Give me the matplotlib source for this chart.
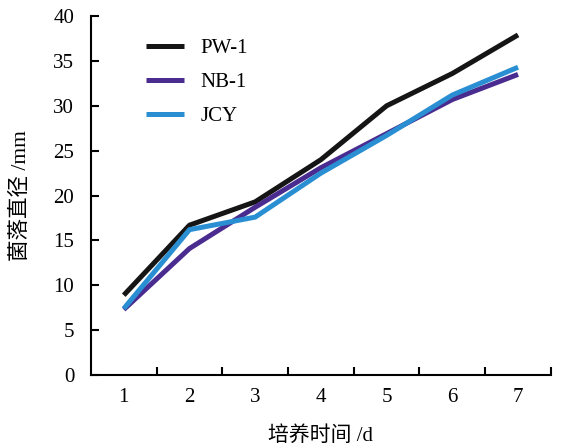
import matplotlib; matplotlib.use("Agg")
import matplotlib.pyplot as plt

days = [1, 2, 3, 4, 5, 6, 7]
pw1 = [8.9, 16.7, 19.3, 24.0, 30.0, 33.6, 37.9]
nb1 = [7.3, 14.1, 18.7, 23.1, 26.9, 30.7, 33.5]
jcy = [7.4, 16.2, 17.6, 22.5, 26.7, 31.2, 34.3]
names = ["PW-1", "NB-1", "JCY"]
colors = ["#151515", "#4a2c90", "#2a8fd2"]

plt.rcParams['font.family'] = ['Liberation Serif', 'Noto Sans CJK SC']
fig = plt.figure(figsize=(5.61, 4.46), dpi=100)
ax = fig.add_axes([0.162, 0.159, 0.82, 0.805])

for ys, n, c in zip([pw1, nb1, jcy], names, colors):
    ax.plot(days, ys, color=c, lw=3.6, label=n, solid_capstyle='butt')

ax.set_xlim(0.5, 7.5); ax.set_ylim(0, 40)
ax.set_yticks(range(0, 41, 5))
ax.set_xticks(days)
ax.set_xticks([1.5, 2.5, 3.5, 4.5, 5.5, 6.5, 7.5], minor=True)
ax.tick_params(axis='x', which='major', length=0, labelsize=15, pad=9)
ax.tick_params(axis='x', which='minor', direction='in', length=6, width=1.5)
ax.tick_params(axis='y', direction='in', length=6, width=1.5, labelsize=15, pad=12)
for s in ['top', 'right']: ax.spines[s].set_visible(False)
for s in ['left', 'bottom']: ax.spines[s].set_linewidth(1.5)

ax.set_xlabel("培养时间 /d", fontsize=15, labelpad=14)
ax.set_ylabel("菌落直径 /mm", fontsize=15.5, labelpad=16)
ax.legend(loc='upper left', bbox_to_anchor=(0.08, 0.99), frameon=False, fontsize=15,
          handlelength=1.8, handletextpad=0.8, labelspacing=0.7)
fig.savefig("out.png", dpi=100)
